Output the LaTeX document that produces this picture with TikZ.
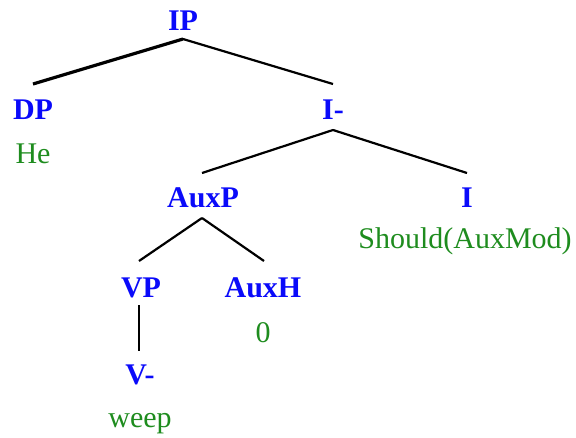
\documentclass[tikz,border=0pt]{standalone}
\usepackage{fontspec}
\setmainfont{Liberation Serif}
\begin{document}
\begin{tikzpicture}[x=1pt,y=-1pt,
  cat/.style={text=catblue,font=\fontsize{30}{35}\selectfont\bfseries,inner sep=0pt,anchor=base},
  word/.style={text=wordgreen,font=\fontsize{30}{35}\selectfont,inner sep=0pt,anchor=base},
  edge/.style={draw=black,line width=2.2pt},
  thickedge/.style={draw=black,line width=3.2pt}]
\definecolor{catblue}{RGB}{10,10,250}
\definecolor{wordgreen}{RGB}{30,140,30}
\useasboundingbox (0,0) rectangle (576,437);
% categories
\node[cat] (ip)   at (183,30)  {IP};
\node[cat] (dp)   at (33,119)  {DP};
\node[cat] (ibar) at (333,119) {I-};
\node[cat] (auxp) at (203,207) {AuxP};
\node[cat] (i)    at (467,207) {I};
\node[cat] (vp)   at (141,297) {VP};
\node[cat] (auxh) at (263,297) {AuxH};
\node[cat] (vbar) at (140,384) {V-};
% words
\node[word] (he)     at (33,163)  {He};
\node[word] (should) at (465,248) {Should(AuxMod)};
\node[word] (zero)   at (263,342) {0};
\node[word] (weep)   at (140,427) {weep};
% branches
\draw[thickedge] ([yshift=-9]ip.base) -- ([yshift=35]dp.base);
\draw[edge] ([yshift=-9]ip.base) -- ([yshift=35]ibar.base);
\draw[edge] ([yshift=-11]ibar.base) -- ([xshift=-1,yshift=34]auxp.base);
\draw[edge] ([yshift=-11]ibar.base) -- ([yshift=34]i.base);
\draw[edge] ([xshift=-1,yshift=-11]auxp.base) -- ([xshift=-2,yshift=36]vp.base);
\draw[edge] ([xshift=-1,yshift=-11]auxp.base) -- ([xshift=1,yshift=36]auxh.base);
\draw[edge] ([xshift=-2,yshift=-8]vp.base) -- ([xshift=-1,yshift=33]vbar.base);
\end{tikzpicture}
\end{document}
